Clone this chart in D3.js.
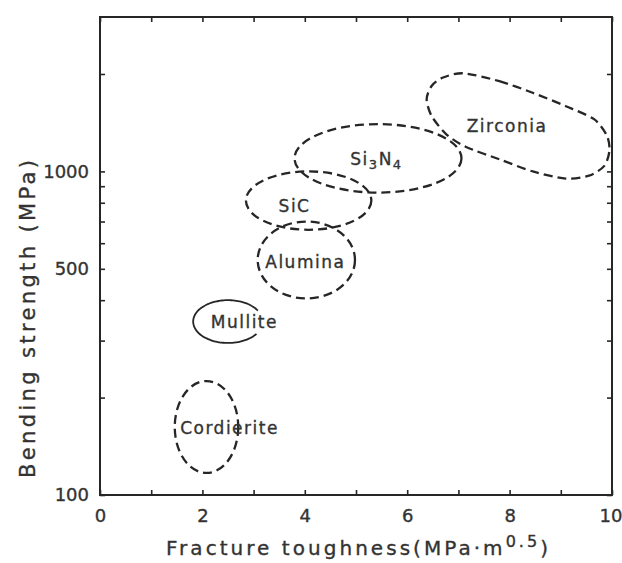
<!DOCTYPE html>
<html>
<head>
<meta charset="utf-8">
<script src="https://cdn.jsdelivr.net/npm/d3@7"></script>
<style>
  body { margin: 0; background: #fff; }
  svg { display: block; font-family: "DejaVu Sans", sans-serif; }
  text { stroke: #333; stroke-width: 0.35px; }
</style>
</head>
<body>
<div id="chart"></div>
<script>
// ceramics families
// each region = toughness range [min,max] and strength range [min,max] (MPa)
var materials = ["Zirconia", "Si3N4", "SiC", "Alumina", "Mullite", "Cordierite"];
var toughRange = {
  Si3N4: [3.8, 7.06],
  SiC: [2.85, 5.3],
  Alumina: [3.08, 4.98],
  Mullite: [1.82, 3.18],
  Cordierite: [1.46, 2.7]
};
var strengthRange = {
  Si3N4: [860, 1400],
  SiC: [660, 1000],
  Alumina: [405, 700],
  Mullite: [295, 400],
  Cordierite: [117, 225]
};
// zirconia is a tilted tear-drop, traced as an outline
var zirconiaTough = [7.1, 7.8, 8.45, 9.1, 9.65, 9.9, 9.95, 9.85, 9.55, 9.1, 8.45, 7.8, 7.15, 6.77, 6.48, 6.38, 6.48, 6.7];
var zirconiaStrength = [2010, 1900, 1750, 1590, 1450, 1290, 1160, 1040, 970, 950, 1000, 1090, 1190, 1300, 1480, 1670, 1840, 1950];

// label anchor points (toughness, strength)
var labelTough = [7.95, 5.4, 3.8, 4.01, 2.82, 2.53];
var labelStrength = [1380, 1090, 781, 524, 343, 161];

var xTicks = [0, 1, 2, 3, 4, 5, 6, 7, 8, 9, 10];
var xTickLabels = [0, 2, 4, 6, 8, 10];
var yTicks = [100, 200, 300, 400, 500, 600, 700, 800, 900, 1000, 2000];
var yTickLabels = [100, 500, 1000];

var W = 622, H = 563;
var margin = { top: 17, right: 10, bottom: 68, left: 100 };
var width = W - margin.left - margin.right,
  height = H - margin.top - margin.bottom;

var svg = d3.select("#chart").append("svg")
  .attr("width", W)
  .attr("height", H);
var g = svg.append("g")
  .attr("transform", "translate(" + margin.left + "," + margin.top + ")");

var x = d3.scaleLinear().domain([0, 10]).range([0, width]);
var y = d3.scaleLog().domain([100, 3000]).range([height, 0]);

var ink = "#262626";

// axes, ticks point inwards on all four sides
var xAxis = g.append("g")
  .attr("transform", "translate(0," + height + ")")
  .call(d3.axisBottom(x).tickValues(xTicks).tickSize(-5).tickPadding(14)
    .tickFormat(function (d) { return xTickLabels.indexOf(d) >= 0 ? d : ""; }));
var xTop = g.append("g")
  .call(d3.axisTop(x).tickValues(xTicks).tickSize(-5).tickFormat(""));
var yAxis = g.append("g")
  .call(d3.axisLeft(y).tickValues(yTicks).tickSize(-5).tickPadding(11)
    .tickFormat(function (d) { return yTickLabels.indexOf(d) >= 0 ? d : ""; }));
var yRight = g.append("g")
  .attr("transform", "translate(" + width + ",0)")
  .call(d3.axisRight(y).tickValues(yTicks).tickSize(-5).tickFormat(""));

[xAxis, xTop, yAxis, yRight].forEach(function (a) {
  a.select(".domain").remove();
  a.selectAll(".tick line").attr("stroke", ink).attr("stroke-width", 1.6);
  a.selectAll(".tick text").attr("font-size", 18).attr("font-family", "DejaVu Sans")
    .attr("fill", "#333");
});
// last label sits at the page edge, nudge it in
xAxis.selectAll(".tick text").filter(function (d) { return d === 10; })
  .attr("text-anchor", "end").attr("dx", 10);

// frame
g.append("rect")
  .attr("x", x(0)).attr("y", y(3000))
  .attr("width", x(10) - x(0)).attr("height", y(100) - y(3000))
  .attr("fill", "none").attr("stroke", ink).attr("stroke-width", 2);

// regions
var regionStyle = function (sel, dashed) {
  sel.attr("fill", "none").attr("stroke", ink).attr("stroke-width", 2.3);
  if (dashed) sel.attr("stroke-dasharray", "9,5");
};

["Si3N4", "SiC", "Alumina", "Cordierite"].forEach(function (m) {
  var tr = toughRange[m], sr = strengthRange[m];
  g.append("ellipse")
    .attr("cx", (x(tr[0]) + x(tr[1])) / 2)
    .attr("cy", (y(sr[0]) + y(sr[1])) / 2)
    .attr("rx", (x(tr[1]) - x(tr[0])) / 2)
    .attr("ry", (y(sr[0]) - y(sr[1])) / 2)
    .call(regionStyle, true);
});

// mullite: solid, open on the right side
(function () {
  var tr = toughRange.Mullite, sr = strengthRange.Mullite;
  var cx = (x(tr[0]) + x(tr[1])) / 2, cy = (y(sr[0]) + y(sr[1])) / 2;
  var rx = (x(tr[1]) - x(tr[0])) / 2, ry = (y(sr[0]) - y(sr[1])) / 2;
  var angles = d3.range(35, 332, 3).map(function (a) { return a * Math.PI / 180; });
  var line = d3.line().curve(d3.curveCardinal);
  g.append("path")
    .attr("d", line(angles.map(function (a) {
      return [cx + rx * Math.cos(a), cy + ry * Math.sin(a)];
    })))
    .call(regionStyle, false)
    .attr("stroke-width", 1.8);
})();

// zirconia outline
var zLine = d3.line()
  .x(function (d, i) { return x(zirconiaTough[i]); })
  .y(function (d, i) { return y(zirconiaStrength[i]); })
  .curve(d3.curveCardinalClosed.tension(0.2));
g.append("path")
  .attr("d", zLine(zirconiaTough))
  .call(regionStyle, true);

// labels
materials.forEach(function (m, i) {
  var t = g.append("text")
    .attr("x", x(labelTough[i]))
    .attr("y", y(labelStrength[i]))
    .attr("dy", "0.36em")
    .attr("text-anchor", "middle")
    .attr("font-size", 17)
    .attr("letter-spacing", "1.5px")
    .attr("fill", "#333");
  if (m === "Si3N4") {
    t.append("tspan").text("Si");
    t.append("tspan").text("3").attr("font-size", 13).attr("dy", "4");
    t.append("tspan").text("N").attr("dy", "-4");
    t.append("tspan").text("4").attr("font-size", 13).attr("dy", "4");
  } else {
    t.text(m);
  }
});

// axis titles
var xt = svg.append("text")
  .attr("x", 166).attr("y", 555)
  .attr("font-size", 20)
  .attr("fill", "#333")
  .attr("textLength", 382)
  .attr("lengthAdjust", "spacing");
xt.append("tspan").text("Fracture toughness(MPa\u00b7m");
xt.append("tspan").text("0.5").attr("font-size", 16).attr("dy", -8);
xt.append("tspan").text(")").attr("dy", 8);

svg.append("text")
  .attr("transform", "translate(35,478) rotate(-90)")
  .attr("font-size", 21)
  .attr("fill", "#333")
  .attr("textLength", 318)
  .attr("lengthAdjust", "spacing")
  .text("Bending strength (MPa)");
</script>
</body>
</html>
